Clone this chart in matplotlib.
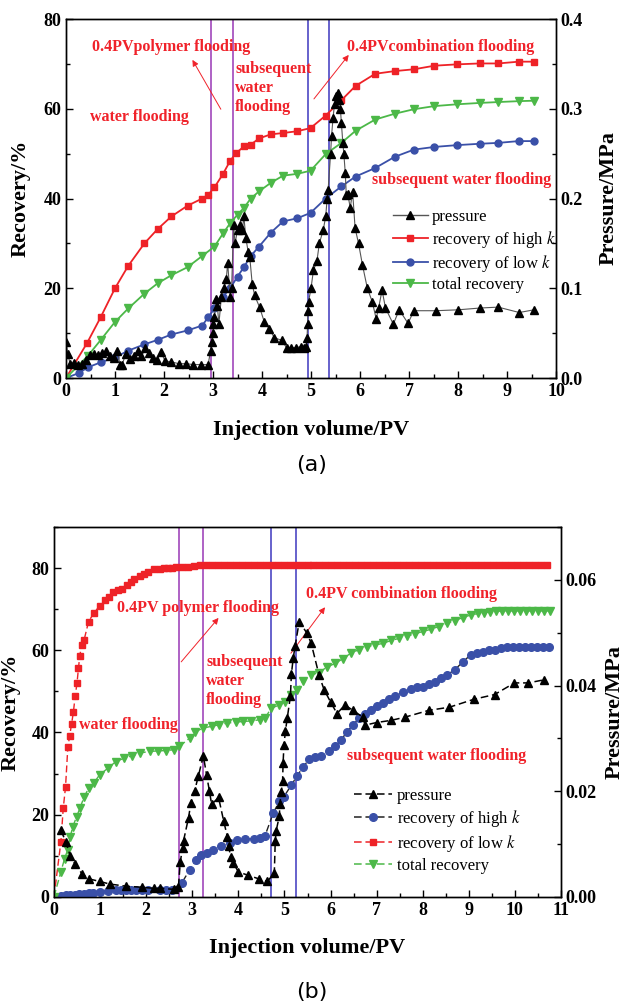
import matplotlib
matplotlib.use("Agg")
import matplotlib.pyplot as plt
from matplotlib.ticker import MultipleLocator, FormatStrFormatter
from matplotlib.lines import Line2D

plt.rcParams["font.family"] = ["Liberation Serif", "DejaVu Serif"]
plt.rcParams["mathtext.fontset"] = "stix"

RED = "#ee2227"
BLUE = "#3a50a8"
GREEN = "#4cb848"
PURPLE = "#a855c0"
VIOLET = "#5a55c8"
TXT_RED = "#f0222a"

# ---------------- panel (a) data ----------------
a_high_x = [0, 0.43, 0.71, 1.0, 1.27, 1.6, 1.87, 2.15, 2.48, 2.78, 2.9, 3.03, 3.2, 3.35, 3.47,
            3.63, 3.77, 3.94, 4.18, 4.43, 4.72, 4.99, 5.3, 5.62, 5.91, 6.31, 6.71, 7.1, 7.52,
            7.98, 8.44, 8.82, 9.24, 9.55]
a_high_y = [0, 7.8, 13.6, 20.0, 25.0, 30.0, 33.2, 36.0, 38.4, 40.0, 40.8, 42.5, 45.4, 48.4, 50.1,
            51.6, 52.0, 53.4, 54.3, 54.6, 55.0, 55.7, 58.5, 61.9, 65.1, 67.8, 68.4, 68.8, 69.6,
            69.9, 70.1, 70.1, 70.5, 70.5]

a_low_x = [0, 0.26, 0.45, 0.71, 1.0, 1.27, 1.6, 1.87, 2.15, 2.48, 2.78, 2.9, 3.03, 3.2, 3.35,
           3.5, 3.63, 3.77, 3.94, 4.18, 4.43, 4.72, 4.99, 5.3, 5.62, 5.91, 6.31, 6.71, 7.1,
           7.52, 7.98, 8.44, 8.82, 9.24, 9.55]
a_low_y = [0, 1.1, 2.4, 3.5, 4.6, 6.1, 7.5, 8.5, 9.7, 10.6, 11.7, 13.5, 15.5, 18.1, 20.0,
           22.6, 24.7, 27.2, 29.3, 32.4, 34.9, 35.6, 36.8, 40.0, 42.7, 44.9, 46.8, 49.3, 50.9,
           51.5, 51.9, 52.2, 52.4, 52.8, 52.8]

a_total_x = [0, 0.45, 0.71, 1.0, 1.27, 1.6, 1.87, 2.15, 2.48, 2.78, 3.03, 3.21, 3.35, 3.5, 3.63,
             3.77, 3.94, 4.18, 4.43, 4.72, 4.99, 5.3, 5.62, 5.91, 6.31, 6.71, 7.1, 7.52, 7.98,
             8.44, 8.82, 9.24, 9.55]
a_total_y = [0, 5.0, 8.5, 12.5, 15.5, 18.8, 21.1, 22.9, 24.7, 27.2, 29.3, 32.3, 34.5, 36.4, 37.9,
             40.0, 41.6, 43.5, 45.1, 45.5, 46.2, 49.9, 52.4, 55.1, 57.6, 58.9, 59.9, 60.6, 61.0,
             61.3, 61.5, 61.7, 61.8]

a_pres_x = [0.00, 0.04, 0.08, 0.16, 0.24, 0.32, 0.40, 0.49, 0.57, 0.65,
            0.73, 0.81, 0.89, 0.97, 1.05, 1.10, 1.14, 1.22, 1.30, 1.38,
            1.46, 1.54, 1.62, 1.70, 1.78, 1.86, 1.94, 2.02, 2.15, 2.30,
            2.45, 2.60, 2.75, 2.90, 2.95, 2.97, 2.99, 3.01, 3.03, 3.06,
            3.09, 3.12, 3.17, 3.22, 3.27, 3.30, 3.35, 3.38, 3.42, 3.45,
            3.50, 3.55, 3.60, 3.63, 3.67, 3.72, 3.75, 3.80, 3.85, 3.95,
            4.05, 4.15, 4.25, 4.40, 4.50, 4.60, 4.70, 4.80, 4.85, 4.90,
            4.92, 4.93, 4.94, 4.95, 5.00, 5.05, 5.12, 5.17, 5.25, 5.30,
            5.33, 5.35, 5.40, 5.42, 5.45, 5.48, 5.52, 5.55, 5.58, 5.60,
            5.62, 5.65, 5.67, 5.70, 5.72, 5.75, 5.80, 5.85, 5.90, 5.97,
            6.05, 6.15, 6.25, 6.33, 6.38, 6.45, 6.52, 6.68, 6.80, 6.98,
            7.10, 7.55, 8.00, 8.45, 8.82, 9.25, 9.55]
a_pres_y = [0.040, 0.027, 0.016, 0.017, 0.015, 0.016, 0.020, 0.026, 0.027, 0.026,
            0.028, 0.030, 0.025, 0.022, 0.030, 0.015, 0.014, 0.027, 0.021, 0.025,
            0.030, 0.024, 0.033, 0.028, 0.022, 0.020, 0.029, 0.019, 0.018, 0.016,
            0.016, 0.015, 0.015, 0.015, 0.030, 0.040, 0.050, 0.060, 0.068, 0.088,
            0.080, 0.060, 0.090, 0.100, 0.110, 0.128, 0.090, 0.100, 0.170, 0.150,
            0.165, 0.170, 0.165, 0.180, 0.156, 0.140, 0.135, 0.105, 0.092, 0.079,
            0.062, 0.055, 0.045, 0.042, 0.034, 0.034, 0.034, 0.035, 0.033, 0.035,
            0.045, 0.060, 0.075, 0.085, 0.100, 0.120, 0.130, 0.150, 0.165, 0.180,
            0.200, 0.210, 0.250, 0.270, 0.290, 0.305, 0.314, 0.318, 0.310, 0.300,
            0.284, 0.262, 0.250, 0.228, 0.204, 0.205, 0.190, 0.207, 0.167, 0.150,
            0.126, 0.100, 0.085, 0.066, 0.078, 0.098, 0.078, 0.060, 0.076, 0.061,
            0.075, 0.075, 0.076, 0.078, 0.079, 0.073, 0.076]

a_vlines_polymer = [2.96, 3.41]
a_vlines_combo = [4.93, 5.37]

# ---------------- panel (b) data ----------------
b_low_x = [0, 0.15, 0.2, 0.25, 0.3, 0.34, 0.38, 0.42, 0.46, 0.5, 0.53, 0.56, 0.6, 0.65, 0.75,
           0.87, 0.99, 1.1, 1.19, 1.29, 1.38, 1.47, 1.58, 1.66, 1.73, 1.86, 1.95, 2.05, 2.17,
           2.29, 2.38, 2.47, 2.56, 2.64, 2.77, 2.90, 3.03, 3.16,
           3.29, 3.42, 3.55, 3.68, 3.81, 3.94, 4.07, 4.20, 4.33, 4.46, 4.59, 4.72, 4.85, 4.98,
           5.11, 5.24, 5.37, 5.50, 5.63, 5.76, 5.89, 6.02, 6.15, 6.28, 6.41, 6.54, 6.67, 6.80,
           6.93, 7.06, 7.19, 7.32, 7.45, 7.58, 7.71, 7.84, 7.97, 8.10, 8.23, 8.36, 8.49, 8.62,
           8.75, 8.88, 9.01, 9.14, 9.27, 9.40, 9.53, 9.66, 9.79, 9.92, 10.05, 10.18, 10.31,
           10.44, 10.57, 10.70]
b_low_y = [0, 13.4, 21.5, 26.7, 36.4, 39.2, 42.0, 44.9, 48.9, 52.1, 55.6, 58.7, 61.3, 62.4, 67.0,
           69.2, 70.8, 72.2, 73.1, 74.2, 74.6, 74.9, 75.9, 76.6, 77.3, 78.0, 78.7, 79.2, 79.7,
           79.9, 80.0, 80.0, 80.1, 80.2, 80.3, 80.4, 80.6, 80.8,
           80.8, 80.8, 80.8, 80.8, 80.8, 80.8, 80.8, 80.8, 80.8, 80.8, 80.8, 80.8, 80.8, 80.8,
           80.8, 80.8, 80.8, 80.8, 80.8, 80.8, 80.8, 80.8, 80.8, 80.8, 80.8, 80.8, 80.8, 80.8,
           80.8, 80.8, 80.8, 80.8, 80.8, 80.8, 80.8, 80.8, 80.8, 80.8, 80.8, 80.8, 80.8, 80.8,
           80.8, 80.8, 80.8, 80.8, 80.8, 80.8, 80.8, 80.8, 80.8, 80.8, 80.8, 80.8, 80.8,
           80.8, 80.8, 80.8]

b_high_x = [0.15, 0.25, 0.35, 0.45, 0.55, 0.65, 0.75, 0.85, 1.0, 1.17,
            1.34, 1.45, 1.56, 1.67, 1.78, 1.9, 2.05, 2.29, 2.42, 2.55,
            2.77, 2.94, 3.09, 3.2, 3.33, 3.46, 3.63, 3.81, 3.98, 4.15,
            4.33, 4.46, 4.58, 4.76, 4.89, 4.99, 5.15, 5.28, 5.41, 5.54,
            5.67, 5.80, 5.97, 6.10, 6.23, 6.36, 6.49, 6.62, 6.75, 6.88,
            7.00, 7.14, 7.27, 7.40, 7.57, 7.74, 7.87, 8.00, 8.13, 8.26,
            8.39, 8.52, 8.69, 8.87, 9.04, 9.17, 9.30, 9.43, 9.56, 9.69,
            9.82, 9.95, 10.08, 10.21, 10.34, 10.47, 10.60, 10.73]
b_high_y = [0.3, 0.4, 0.4, 0.5, 0.6, 0.7, 0.9, 1.0, 1.2, 1.5,
            1.6, 1.7, 1.6, 1.7, 1.6, 1.6, 1.6, 1.6, 1.7, 1.7,
            3.3, 6.5, 8.9, 10.2, 10.7, 11.5, 12.4, 13.2, 13.7, 14.0,
            14.1, 14.4, 14.9, 20.5, 23.2, 24.4, 27.2, 29.5, 31.7, 33.5,
            34.1, 34.3, 35.4, 36.6, 38.2, 40.2, 41.9, 43.5, 44.6, 45.5,
            46.5, 47.3, 48.1, 48.9, 49.8, 50.5, 51.0, 51.1, 51.8, 52.4,
            53.2, 54.0, 55.2, 57.2, 58.9, 59.3, 59.7, 60.0, 60.2, 60.5,
            60.7, 60.8, 60.9, 60.9, 60.9, 60.9, 60.9, 60.9]

b_total_x = [0, 0.15, 0.23, 0.3, 0.35, 0.41, 0.49, 0.56, 0.65, 0.75,
             0.87, 0.99, 1.17, 1.34, 1.51, 1.69, 1.86, 2.08, 2.25, 2.42,
             2.6, 2.72, 2.94, 3.07, 3.24, 3.42, 3.59, 3.76, 3.94, 4.11,
             4.28, 4.46, 4.58, 4.71, 4.89, 5.02, 5.15, 5.28, 5.41, 5.58,
             5.75, 5.93, 6.10, 6.27, 6.44, 6.62, 6.79, 6.96, 7.14, 7.31,
             7.48, 7.66, 7.83, 8.00, 8.17, 8.35, 8.52, 8.69, 8.87, 9.04,
             9.21, 9.34, 9.47, 9.60, 9.73, 9.86, 9.99, 10.12, 10.25, 10.38,
             10.51, 10.64, 10.77]
b_total_y = [0, 6.1, 9.3, 11.5, 14.6, 17.1, 19.5, 21.5, 24.2, 26.4,
             27.8, 29.7, 31.3, 32.9, 33.7, 34.3, 35.0, 35.4, 35.5, 35.6,
             35.8, 36.6, 38.6, 40.2, 41.1, 41.5, 41.9, 42.3, 42.5, 42.7,
             42.8, 43.1, 43.5, 45.9, 46.7, 47.5, 49.1, 50.3, 52.6, 54.0,
             54.6, 56.0, 56.8, 58.0, 59.3, 60.2, 60.9, 61.3, 61.7, 62.4,
             62.9, 63.5, 64.0, 64.6, 65.1, 65.8, 66.6, 67.2, 68.0, 68.6,
             69.0, 69.2, 69.4, 69.5, 69.6, 69.6, 69.6, 69.6, 69.6, 69.6,
             69.6, 69.6, 69.6]

b_pres_x = [0.15, 0.26, 0.35, 0.46, 0.61, 0.75, 0.99, 1.21, 1.56, 1.9,
            2.16, 2.29, 2.6, 2.7, 2.74, 2.79, 2.81, 2.92, 2.97, 3.05,
            3.13, 3.24, 3.31, 3.37, 3.42, 3.57, 3.68, 3.76, 3.79, 3.83,
            3.89, 4.0, 4.2, 4.44, 4.63, 4.78, 4.8, 4.82, 4.89, 4.9,
            4.93, 4.96, 4.97, 4.99, 5.02, 5.06, 5.13, 5.15, 5.19, 5.23,
            5.32, 5.49, 5.58, 5.75, 5.86, 6.0, 6.14, 6.31, 6.49, 6.7,
            6.75, 7.0, 7.31, 7.61, 8.13, 8.58, 9.11, 9.56, 9.99, 10.29, 10.64]
b_pres_y = [0.0126, 0.0103, 0.0078, 0.0062, 0.0043, 0.0034, 0.0029, 0.0024, 0.0020, 0.0018,
            0.0016, 0.0016, 0.0014, 0.0019, 0.0066, 0.0093, 0.0106, 0.0150, 0.0178, 0.0200,
            0.0228, 0.0267, 0.0231, 0.0201, 0.0175, 0.0188, 0.0144, 0.0114, 0.0097, 0.0075,
            0.0064, 0.0047, 0.0041, 0.0034, 0.0029, 0.0045, 0.0105, 0.0125, 0.0153, 0.0175,
            0.0198, 0.0220, 0.0253, 0.0288, 0.0313, 0.0338, 0.0380, 0.0421, 0.0452, 0.0474,
            0.0521, 0.0499, 0.0480, 0.0420, 0.0392, 0.0369, 0.0347, 0.0363, 0.0353, 0.0340,
            0.0325, 0.0330, 0.0334, 0.0340, 0.0353, 0.0359, 0.0374, 0.0383, 0.0405, 0.0405, 0.0411]

b_vlines_polymer = [2.71, 3.24]
b_vlines_combo = [4.71, 5.25]

TICK_FS = 13
LABEL_FS = 16
NOTE_FS = 11.5
LEG_FS = 12


def style_axes(ax, axr, xmax, ymax, pmax, pmajor, pfmt):
    ax.set_xlim(0, xmax)
    ax.set_ylim(0, ymax)
    axr.set_ylim(0, pmax)
    ax.xaxis.set_major_locator(MultipleLocator(1))
    ax.xaxis.set_minor_locator(MultipleLocator(0.5))
    ax.yaxis.set_major_locator(MultipleLocator(20))
    ax.yaxis.set_minor_locator(MultipleLocator(10))
    axr.yaxis.set_major_locator(MultipleLocator(pmajor))
    axr.yaxis.set_minor_locator(MultipleLocator(pmajor / 2))
    axr.yaxis.set_major_formatter(FormatStrFormatter(pfmt))
    for a in (ax, axr):
        a.tick_params(which="both", direction="in", top=False, labelsize=TICK_FS, width=1.0)
        a.tick_params(which="major", length=5)
        a.tick_params(which="minor", length=3)
        for lab in a.get_xticklabels() + a.get_yticklabels():
            lab.set_fontweight("bold")
        for sp in a.spines.values():
            sp.set_linewidth(1.0)
    ax.set_xlabel("Injection volume/PV", fontsize=LABEL_FS, fontweight="bold")
    ax.set_ylabel("Recovery/%", fontsize=LABEL_FS, fontweight="bold")
    axr.set_ylabel("Pressure/MPa", fontsize=LABEL_FS, fontweight="bold")


def note(ax, x, y, s, ha="center"):
    ax.text(x, y, s, color=TXT_RED, fontsize=NOTE_FS, fontweight="bold",
            ha=ha, va="center", linespacing=1.25, zorder=10)


def arrow(ax, tail, head):
    ax.annotate("", xy=head, xytext=tail,
                arrowprops=dict(arrowstyle="-|>", color=TXT_RED, lw=0.7, mutation_scale=9,
                                shrinkA=0, shrinkB=0), zorder=10)


fig = plt.figure(figsize=(6.25, 10.07), dpi=100)

# ---------------- panel (a) ----------------
ax1 = fig.add_axes([0.1056, 0.6246, 0.784, 0.3565])
ax1r = ax1.twinx()
for xv in a_vlines_polymer:
    ax1.axvline(xv, color=PURPLE, lw=1.3, zorder=1)
for xv in a_vlines_combo:
    ax1.axvline(xv, color=VIOLET, lw=1.3, zorder=1)

ax1.plot(a_high_x, a_high_y, color=RED, lw=1.3, marker="s", ms=5, zorder=3)
ax1.plot(a_low_x, a_low_y, color=BLUE, lw=1.3, marker="o", ms=5, zorder=3)
ax1.plot(a_total_x, a_total_y, color=GREEN, lw=1.3, marker="v", ms=6, zorder=3)
ax1r.plot(a_pres_x, a_pres_y, color="#555555", lw=0.8, marker="^", ms=6, mfc="black",
          mec="black", zorder=2)

style_axes(ax1, ax1r, 10, 80, 0.4, 0.1, "%.1f")
ax1.xaxis.set_label_coords(0.5, -0.117)
ax1.yaxis.set_label_coords(-0.073, 0.5)
ax1r.yaxis.set_label_coords(1.086, 0.5)

note(ax1, 2.15, 73.8, "0.4PVpolymer flooding")
note(ax1, 1.49, 58.2, "water flooding")
note(ax1, 3.45, 64.6, "subsequent\nwater\nflooding", ha="left")
note(ax1, 7.64, 73.8, "0.4PVcombination flooding")
note(ax1, 8.07, 44.1, "subsequent water flooding")
arrow(ax1, (3.16, 59.9), (2.58, 70.9))
arrow(ax1, (5.06, 62.2), (5.77, 72.0))

a_handles = [
    Line2D([], [], color="#555555", lw=1.0, marker="^", ms=6, mfc="black", mec="black"),
    Line2D([], [], color=RED, lw=1.3, marker="s", ms=5),
    Line2D([], [], color=BLUE, lw=1.3, marker="o", ms=5),
    Line2D([], [], color=GREEN, lw=1.3, marker="v", ms=6),
]
a_labels = ["pressure", "recovery of high $k$", "recovery of low $k$", "total recovery"]
ax1r.legend(a_handles, a_labels, loc="upper left", bbox_to_anchor=(0.667, 0.47),
            frameon=False, fontsize=LEG_FS, handlelength=2.1, handletextpad=0.25,
            labelspacing=0.2, borderpad=0, borderaxespad=0)

# ---------------- panel (b) ----------------
ax2 = fig.add_axes([0.0864, 0.1095, 0.8112, 0.367])
ax2r = ax2.twinx()
for xv in b_vlines_polymer:
    ax2.axvline(xv, color=PURPLE, lw=1.3, zorder=1)
for xv in b_vlines_combo:
    ax2.axvline(xv, color=VIOLET, lw=1.3, zorder=1)

DASH = (0, (5, 2.5))
ax2.plot(b_low_x, b_low_y, color=RED, lw=1.0, ls=DASH, marker="s", ms=5, zorder=3)
ax2.plot(b_high_x, b_high_y, color="#222222", lw=1.0, ls=DASH, marker="o", ms=5.5,
         mfc=BLUE, mec=BLUE, zorder=3)
ax2.plot(b_total_x, b_total_y, color=GREEN, lw=1.0, ls=DASH, marker="v", ms=6, zorder=3)
ax2r.plot(b_pres_x, b_pres_y, color="black", lw=1.1, ls=DASH, marker="^", ms=6, zorder=2)

style_axes(ax2, ax2r, 11, 90, 0.07, 0.02, "%.2f")
ax2.xaxis.set_label_coords(0.5, -0.112)
ax2.yaxis.set_label_coords(-0.066, 0.5)
ax2r.yaxis.set_label_coords(1.087, 0.5)

note(ax2, 3.12, 70.3, "0.4PV polymer flooding")
note(ax2, 7.54, 73.7, "0.4PV combination flooding")
note(ax2, 3.30, 52.5, "subsequent\nwater\nflooding", ha="left")
note(ax2, 1.61, 41.8, "water flooding")
note(ax2, 8.30, 34.3, "subsequent water flooding")
arrow(ax2, (2.76, 57.2), (3.57, 67.9))
arrow(ax2, (5.14, 59.3), (5.88, 70.5))

b_handles = [
    Line2D([], [], color="black", lw=1.1, ls=DASH, marker="^", ms=6),
    Line2D([], [], color="#222222", lw=1.1, ls=DASH, marker="o", ms=5.5, mfc=BLUE, mec=BLUE),
    Line2D([], [], color=RED, lw=1.1, ls=DASH, marker="s", ms=5),
    Line2D([], [], color=GREEN, lw=1.1, ls=DASH, marker="v", ms=6),
]
b_labels = ["pressure", "recovery of high $k$", "recovery of low $k$", "total recovery"]
ax2r.legend(b_handles, b_labels, loc="upper left", bbox_to_anchor=(0.592, 0.295),
            frameon=False, fontsize=LEG_FS, handlelength=2.3, handletextpad=0.25,
            labelspacing=0.25, borderpad=0, borderaxespad=0)

fig.text(312 / 625, 1 - 465 / 1007, "(a)", fontsize=16, family="DejaVu Sans",
         ha="center", va="center")
fig.text(312 / 625, 1 - 992 / 1007, "(b)", fontsize=16, family="DejaVu Sans",
         ha="center", va="center")

fig.savefig("out.png", dpi=100)
